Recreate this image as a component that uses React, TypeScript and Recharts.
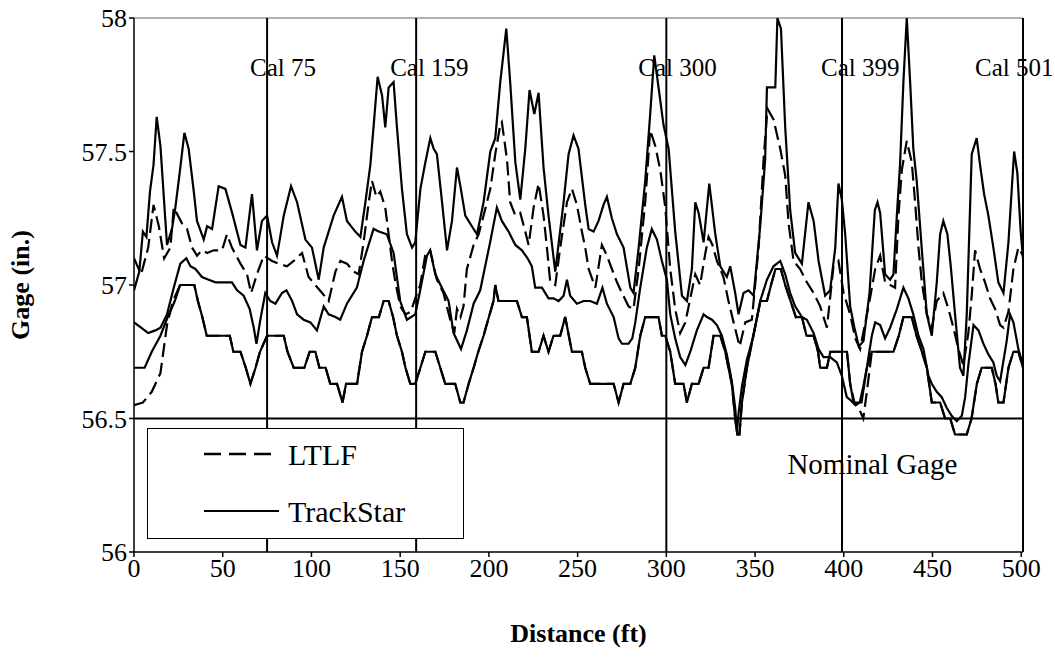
import React from "react";
import { LineChart, Line, XAxis, YAxis, ReferenceLine } from "recharts";

// distance (ft), gage (in.)
type Pt = [number, number];

const xTicks = [0, 50, 100, 150, 200, 250, 300, 350, 400, 450, 500];
const yTicks = [56, 56.5, 57, 57.5, 58];
const calStations = [75, 159, 300, 399, 501];
const calLabels = ["Cal 75", "Cal 159", "Cal 300", "Cal 399", "Cal 501"];
const nominalGage = 56.5;

const trackStarHigh: Pt[] = [
  [0, 56.98], [3, 57.05], [5, 57.2], [7, 57.18], [9, 57.35], [11, 57.45], [12.8, 57.63], [14.9, 57.52],
  [18.6, 57.15], [21.4, 57.21], [23.3, 57.29], [26.1, 57.44], [28.4, 57.57], [30.8, 57.51],
  [33.7, 57.35], [35.5, 57.24], [39.3, 57.17], [41.2, 57.22], [44, 57.21], [47.7, 57.37],
  [51.5, 57.36], [55.3, 57.27], [60, 57.15], [62.8, 57.14], [66.5, 57.34], [69.3, 57.13],
  [72.1, 57.24], [75, 57.26], [77.8, 57.16], [80.6, 57.11], [84.4, 57.26], [88.5, 57.37],
  [91.9, 57.31], [96.6, 57.17], [100.3, 57.14], [104.1, 57.02], [106.9, 57.14], [112.5, 57.26],
  [117.2, 57.33], [120, 57.24], [124.7, 57.2], [127.6, 57.18], [130.4, 57.31], [133.2, 57.45],
  [135.1, 57.6], [137.3, 57.78], [139.8, 57.71], [141.6, 57.59], [143.5, 57.74], [146.3, 57.76],
  [148.2, 57.59], [151, 57.36], [153.8, 57.19], [156.7, 57.14], [158.5, 57.16], [161.4, 57.36],
  [164.2, 57.46], [167, 57.55], [168.9, 57.51], [170.7, 57.49], [173.6, 57.31], [176.4, 57.13],
  [179.2, 57.24], [182, 57.44], [184.2, 57.36], [186.7, 57.26], [190.4, 57.22], [193.3, 57.19],
  [197, 57.31], [200.8, 57.5], [203.6, 57.55], [206.4, 57.76], [209.8, 57.96], [212, 57.76],
  [214.9, 57.46], [217.7, 57.32], [220.5, 57.51], [222.9, 57.73], [225.6, 57.64], [228, 57.72],
  [230.8, 57.44], [233.6, 57.26], [237.4, 57.05], [242.1, 57.31], [244.9, 57.49], [247.7, 57.56],
  [250.5, 57.51], [254.3, 57.3], [256.2, 57.21], [259, 57.2], [261.8, 57.24], [264.6, 57.3],
  [266.5, 57.33], [269.3, 57.25], [272.2, 57.19], [275.9, 57.14], [279.7, 56.99], [281.5, 56.97],
  [284.4, 57.14], [288.1, 57.39], [290.9, 57.64], [293.2, 57.86], [295.6, 57.74], [298.4, 57.6],
  [301.3, 57.51], [305, 57.2], [308.8, 56.96], [311.6, 56.94], [314.4, 57.06], [316.3, 57.31],
  [318.2, 57.27], [321, 57.16], [324.2, 57.38], [327.6, 57.19], [330.4, 57.07], [334.1, 57.03],
  [336, 57.07], [338.8, 56.97], [340.7, 56.89], [343.5, 56.97], [346.3, 56.98], [349.2, 56.96],
  [352.9, 57.22], [355.7, 57.47], [356.7, 57.74], [361.4, 57.74], [362.6, 58.0], [364.6, 57.96],
  [367, 57.59], [369.8, 57.28], [372.6, 57.12], [376.4, 57.08], [380.1, 57.31], [383, 57.24],
  [385.8, 57.09], [389.5, 56.96], [392.3, 56.98], [395.2, 57.14], [397, 57.38], [398.9, 57.32],
  [400.8, 57.19], [403.6, 56.92], [406, 56.84], [408.5, 56.77], [411.1, 56.79], [414.5, 56.97],
  [417.5, 57.28], [419, 57.31], [420.5, 57.27], [423.3, 57.04], [426.1, 57.02], [428, 57.04],
  [429.9, 57.26], [431.7, 57.45], [433.6, 57.76], [435.5, 58.0], [437.4, 57.76], [439.2, 57.51],
  [441.1, 57.39], [443.9, 57.14], [446.8, 56.89], [449.6, 56.81], [452.4, 57.01], [454.3, 57.19],
  [456.1, 57.24], [458.4, 57.19], [460.3, 57.07], [462.7, 56.89], [465.5, 56.69], [467.4, 56.66],
  [469.3, 56.89], [472.1, 57.49], [474.9, 57.55], [476.8, 57.45], [479.1, 57.34], [481.5, 57.26],
  [484.3, 57.14], [487.1, 57.01], [490, 56.97], [492.8, 57.16], [496, 57.5], [497.8, 57.42],
  [499.7, 57.2], [501, 57.1],
];

const ltlfHigh: Pt[] = [
  [0, 57.1], [4, 57.04], [8, 57.14], [11, 57.3], [14, 57.22], [17, 57.1], [20.5, 57.14],
  [22.4, 57.29], [27.1, 57.23], [29.9, 57.21], [32.7, 57.14], [35.5, 57.11], [38.3, 57.13],
  [41.2, 57.12], [44.9, 57.13], [49.6, 57.13], [52.4, 57.19], [55.2, 57.14], [60, 57.08],
  [63.7, 57.04], [66, 56.97], [69.3, 57.04], [73.1, 57.11], [77.8, 57.09], [81.5, 57.08],
  [86.2, 57.07], [90, 57.09], [94.7, 57.12], [98.4, 57.03], [102.2, 57.0], [106, 56.97],
  [109.7, 56.94], [113.5, 57.05], [116.3, 57.09], [120, 57.08], [123.8, 57.05], [126.6, 57.04],
  [129.4, 57.16], [132.3, 57.31], [134.1, 57.39], [136.6, 57.33], [138.8, 57.35], [141.6, 57.29],
  [143.5, 57.19], [145.4, 57.09], [147.3, 57.01], [150.1, 56.92], [153, 56.89], [156, 56.9],
  [158.5, 56.95], [161.3, 57.0], [164.1, 57.11], [166.9, 57.13], [170.7, 57.02], [174.4, 56.97],
  [178.2, 56.87], [180.5, 56.82], [182, 56.91], [184, 56.88], [185.7, 56.92], [187.6, 57.06],
  [191.4, 57.15], [194.2, 57.19], [197, 57.26], [200.8, 57.36], [203.6, 57.49], [206.4, 57.6],
  [207.3, 57.61], [210.2, 57.47], [212, 57.31], [214.9, 57.26], [217.7, 57.27], [220.5, 57.2],
  [222.4, 57.15], [225.2, 57.29], [228, 57.38], [230.8, 57.26], [232.7, 57.14], [234.6, 57.01],
  [237.4, 57.0], [240.2, 57.14], [244, 57.31], [246.8, 57.36], [249.6, 57.3], [252.4, 57.2],
  [254.3, 57.14], [256.2, 57.06], [260, 56.99], [263.7, 57.15], [266.5, 57.11], [269.3, 57.06],
  [272.2, 57.01], [275, 56.97], [278.7, 56.92], [281.5, 56.91], [284.4, 57.06], [288.1, 57.31],
  [290.9, 57.58], [293.8, 57.52], [296.6, 57.43], [299.4, 57.29], [302.2, 57.06], [305, 56.91],
  [307.8, 56.82], [310.7, 56.86], [313.5, 56.95], [316.3, 57.04], [319, 57.0], [322, 57.12],
  [323.8, 57.18], [326, 57.15], [328.5, 57.09], [330.4, 57.06], [332.2, 57.03], [335, 56.94],
  [337.9, 56.86], [341.3, 56.77], [344.5, 56.86], [348.2, 56.87], [352, 57.14], [354.8, 57.47],
  [357, 57.66], [360.4, 57.62], [364.2, 57.51], [367, 57.41], [368.9, 57.23], [371.7, 57.09],
  [375.4, 57.06], [379.2, 57.01], [383, 56.97], [386.7, 56.92], [390.5, 56.84], [394.2, 57.07],
  [397, 57.09], [399.9, 56.97], [403.6, 56.89], [406.5, 56.8], [409.2, 56.76], [414.8, 56.95],
  [417.7, 57.06], [420.5, 57.11], [423.3, 57.01], [428.9, 56.99], [430.8, 57.26], [432.7, 57.43],
  [435.5, 57.54], [438.3, 57.46], [440.2, 57.31], [442.1, 57.14], [444, 57.01], [446.8, 56.89],
  [449.6, 56.84], [452.4, 56.94], [456.1, 56.97], [459, 56.91], [461.8, 56.84], [464.6, 56.76],
  [467.4, 56.7], [470.2, 56.82], [472.1, 56.96], [474, 57.13], [476.8, 57.06], [479.6, 57.01],
  [482.4, 56.95], [485.3, 56.91], [488.1, 56.85], [490, 56.84], [492.8, 56.9], [495.6, 57.06],
  [498.4, 57.14], [501, 57.11],
];

const trackStarMid: Pt[] = [
  [0, 56.86], [4, 56.84], [8, 56.82], [12, 56.83], [14.9, 56.84], [18.6, 56.89], [22.4, 56.99],
  [26.1, 57.08], [29.5, 57.1], [31.8, 57.07], [34.6, 57.06], [38.3, 57.03], [42.1, 57.02],
  [45.9, 57.01], [49.6, 57.01], [52.4, 57.01], [55.2, 57.01], [58.1, 56.98], [61.8, 56.96],
  [65.2, 56.91], [67.5, 56.84], [69, 56.78], [71.2, 56.87], [74, 56.97], [76.8, 56.94],
  [79.7, 56.93], [83.4, 56.97], [85.9, 56.98], [89.1, 56.94], [91.9, 56.89], [95.6, 56.87],
  [99.4, 56.86], [103.1, 56.83], [106.9, 56.92], [109.7, 56.89], [113.5, 56.88], [116.2, 56.87],
  [120, 56.93], [125.6, 56.99], [129.4, 57.09], [135, 57.21], [138, 57.2], [142.5, 57.19],
  [146.3, 57.12], [150, 56.94], [153.8, 56.87], [158.5, 56.89], [161.3, 56.98], [165.1, 57.11],
  [166.9, 57.13], [169.8, 57.04], [173.5, 56.99], [177.3, 56.94], [180.1, 56.82], [184.3, 56.76],
  [187.6, 56.83], [191.4, 56.93], [195.1, 56.98], [200.7, 57.16], [204.5, 57.29], [207.3, 57.24],
  [211.1, 57.2], [214.9, 57.15], [218.6, 57.13], [221.8, 57.1], [224.2, 57.07], [226.1, 56.99],
  [229.9, 56.99], [233.6, 56.95], [236.4, 56.95], [239.3, 56.94], [242.1, 56.96], [244, 57.02],
  [245.8, 56.96], [249.6, 56.93], [253.4, 56.94], [257.1, 56.94], [260.9, 56.93], [264, 56.99],
  [266.5, 56.93], [270.3, 56.88], [273.1, 56.8], [275, 56.78], [278.7, 56.78], [280.8, 56.8],
  [282.5, 56.86], [285.3, 56.99], [289, 57.14], [291.8, 57.21], [294.7, 57.17], [297.5, 57.09],
  [300.3, 57.02], [302.2, 56.89], [305, 56.8], [307.8, 56.73], [310.7, 56.7], [313.5, 56.75],
  [317.2, 56.83], [321, 56.89], [322.9, 56.88], [325.7, 56.87], [328.5, 56.85], [331.3, 56.81],
  [334.1, 56.74], [336.9, 56.64], [338.8, 56.54], [339.8, 56.45], [340.7, 56.52], [342.6, 56.62],
  [345.4, 56.72], [349.1, 56.81], [352.9, 56.94], [356.7, 57.02], [360.4, 57.07], [364.2, 57.09],
  [367, 57.04], [369.8, 56.97], [372.6, 56.92], [376.4, 56.88], [379.2, 56.87], [383, 56.82],
  [385.8, 56.76], [388.6, 56.73], [392.3, 56.73], [396.1, 56.71], [398.9, 56.66], [401.7, 56.58],
  [403.6, 56.57], [406.5, 56.55], [409, 56.56], [411, 56.62], [413, 56.69], [415.8, 56.81],
  [417.7, 56.86], [420.5, 56.85], [423.3, 56.8], [426.1, 56.84], [429.9, 56.91], [433.6, 56.99],
  [436.4, 56.95], [439.2, 56.89], [442.1, 56.81], [444.9, 56.76], [447.7, 56.66], [449.6, 56.63],
  [452.4, 56.6], [455.2, 56.58], [458, 56.54], [460.8, 56.51], [463.7, 56.49], [466.5, 56.51],
  [468.4, 56.58], [470.2, 56.7], [473.1, 56.85], [475.9, 56.83], [478.7, 56.78], [481.5, 56.74],
  [484.3, 56.71], [486.2, 56.66], [488.1, 56.64], [491.8, 56.79], [493.7, 56.89], [495.6, 56.86],
  [498.4, 56.76], [501, 56.7],
];

const trackStarLow: Pt[] = [
  [0, 56.69], [6, 56.69], [10, 56.75], [14.9, 56.81], [19, 56.88], [23, 56.94], [26, 57.0],
  [34, 57.0], [36, 56.94], [38.5, 56.88], [41, 56.81], [54, 56.81], [56, 56.75], [60, 56.75],
  [63, 56.69], [65.6, 56.63], [68.5, 56.69], [71, 56.75], [75, 56.81], [84.4, 56.81],
  [86.5, 56.75], [90, 56.69], [96, 56.69], [99, 56.75], [102.2, 56.75], [104.5, 56.69],
  [108, 56.69], [110.6, 56.63], [114.4, 56.63], [117.5, 56.56], [119.5, 56.63], [125.7, 56.63],
  [128.5, 56.75], [131.3, 56.81], [134.1, 56.88], [138, 56.88], [140.7, 56.94], [143.5, 56.94],
  [146, 56.88], [148.2, 56.81], [151, 56.75], [153, 56.69], [155.7, 56.63], [158.5, 56.63],
  [161.4, 56.69], [164.2, 56.75], [169.8, 56.75], [172.6, 56.69], [175.4, 56.63], [181, 56.63],
  [183.9, 56.56], [185.7, 56.56], [188.6, 56.63], [191.4, 56.69], [194, 56.75], [197, 56.81],
  [200, 56.88], [202.6, 56.94], [203.6, 57.0], [205.4, 56.94], [215.8, 56.94], [218.6, 56.88],
  [221.4, 56.88], [224.2, 56.75], [228, 56.75], [230.8, 56.81], [233.6, 56.75], [236.4, 56.81],
  [240.2, 56.81], [243, 56.88], [246.8, 56.75], [252.4, 56.75], [254.3, 56.69], [257.1, 56.63],
  [270.3, 56.63], [273.1, 56.56], [275.9, 56.63], [279.7, 56.63], [282.5, 56.69], [285.3, 56.81],
  [288.1, 56.88], [295.6, 56.88], [297.5, 56.81], [299.4, 56.81], [302.2, 56.75], [305, 56.63],
  [309.7, 56.63], [311.6, 56.56], [314.4, 56.63], [318.2, 56.63], [321, 56.69], [323.8, 56.69],
  [326.6, 56.81], [330.4, 56.81], [333.2, 56.75], [335, 56.69], [336.9, 56.63], [338.8, 56.5],
  [340, 56.44], [341.2, 56.44], [342.6, 56.56], [345.4, 56.69], [349, 56.81], [353, 56.94],
  [356.7, 56.94], [359, 57.0], [361.5, 57.06], [364.5, 57.06], [367, 57.0], [370, 56.94],
  [373, 56.88], [376.4, 56.88], [379, 56.81], [383, 56.81], [385.5, 56.75], [386.7, 56.69],
  [390.5, 56.69], [392.4, 56.75], [401.8, 56.75], [403.6, 56.63], [405.5, 56.56], [410, 56.56],
  [413, 56.69], [415.8, 56.75], [428, 56.75], [431, 56.81], [433.6, 56.88], [438.3, 56.88],
  [441, 56.81], [444, 56.75], [446.8, 56.69], [449.6, 56.56], [454.3, 56.56], [457.1, 56.5],
  [460, 56.5], [462.7, 56.44], [469.3, 56.44], [472, 56.5], [475, 56.63], [477.7, 56.69],
  [483.4, 56.69], [485.5, 56.63], [487.1, 56.56], [490, 56.56], [492.8, 56.69], [495.6, 56.75],
  [498.4, 56.75], [501, 56.69],
];

const ltlfLow: Pt[] = [
  [0, 56.55], [5, 56.56], [10, 56.6], [14.9, 56.67], [18.6, 56.85], [22, 56.94], [26, 57.0],
  [34, 57.0], [36, 56.94], [38.5, 56.88], [41, 56.81], [54, 56.81], [56, 56.75], [60, 56.75],
  [63, 56.69], [65.6, 56.63], [68.5, 56.69], [71, 56.75], [75, 56.81], [84.4, 56.81],
  [86.5, 56.75], [90, 56.69], [96, 56.69], [99, 56.75], [102.2, 56.75], [104.5, 56.69],
  [108, 56.69], [110.6, 56.63], [114.4, 56.63], [117.5, 56.56], [119.5, 56.63], [125.7, 56.63],
  [128.5, 56.75], [131.3, 56.81], [134.1, 56.88], [138, 56.88], [140.7, 56.94], [143.5, 56.94],
  [146, 56.88], [148.2, 56.81], [151, 56.75], [153, 56.69], [155.7, 56.63], [158.5, 56.63],
  [161.4, 56.69], [164.2, 56.75], [169.8, 56.75], [172.6, 56.69], [175.4, 56.63], [181, 56.63],
  [183.9, 56.56], [185.7, 56.56], [188.6, 56.63], [191.4, 56.69], [194, 56.75], [197, 56.81],
  [200, 56.88], [202.6, 56.94], [203.6, 57.0], [205.4, 56.94], [215.8, 56.94], [218.6, 56.88],
  [221.4, 56.88], [224.2, 56.75], [228, 56.75], [230.8, 56.81], [233.6, 56.75], [236.4, 56.81],
  [240.2, 56.81], [243, 56.88], [246.8, 56.75], [252.4, 56.75], [254.3, 56.69], [257.1, 56.63],
  [270.3, 56.63], [273.1, 56.56], [275.9, 56.63], [279.7, 56.63], [282.5, 56.69], [285.3, 56.81],
  [288.1, 56.88], [295.6, 56.88], [297.5, 56.81], [299.4, 56.81], [302.2, 56.75], [305, 56.63],
  [309.7, 56.63], [311.6, 56.56], [314.4, 56.63], [318.2, 56.63], [321, 56.69], [323.8, 56.69],
  [326.6, 56.81], [330.4, 56.81], [333.2, 56.75], [335, 56.69], [336.9, 56.63], [338.8, 56.5],
  [340, 56.44], [341.2, 56.44], [342.6, 56.56], [345.4, 56.69], [349, 56.81], [353, 56.94],
  [356.7, 56.94], [359, 57.0], [361.5, 57.06], [364.5, 57.06], [367, 57.0], [370, 56.94],
  [373, 56.88], [376.4, 56.88], [379, 56.81], [383, 56.81], [385.5, 56.75], [386.7, 56.69],
  [390.5, 56.69], [392.4, 56.75], [401.8, 56.75], [403.6, 56.63], [406, 56.56], [409, 56.53],
  [411, 56.5], [413, 56.6], [415.8, 56.75], [428, 56.75], [431, 56.81], [433.6, 56.88],
  [438.3, 56.88], [441, 56.81], [444, 56.75], [446.8, 56.69], [449.6, 56.56], [454.3, 56.56],
  [457.1, 56.5], [460, 56.5], [462.7, 56.44], [469.3, 56.44], [472, 56.5], [475, 56.63],
  [477.7, 56.69], [483.4, 56.69], [485.5, 56.63], [487.1, 56.56], [490, 56.56], [492.8, 56.69],
  [495.6, 56.75], [498.4, 56.75], [501, 56.69],
];

const FONT = '"Liberation Serif", "Times New Roman", serif';
const calLabelShift = [-17, -26, -28, -21, -48];

const rows = (pts: Pt[]) => pts.map(([ft, gage]) => ({ ft, gage }));

const series = [
  { name: "TrackStar high", pts: trackStarHigh, dash: undefined },
  { name: "LTLF high", pts: ltlfHigh, dash: "14 6" },
  { name: "TrackStar mid", pts: trackStarMid, dash: undefined },
  { name: "LTLF low", pts: ltlfLow, dash: "14 6" },
  { name: "TrackStar low", pts: trackStarLow, dash: undefined },
];

function CalLabel(text: string, shift: number) {
  return (props: any) => {
    const vb = props.viewBox || {};
    return (
      <text x={vb.x + shift} y={67} fontSize={25} fontFamily={FONT} fill="#000" dominantBaseline="central">
        {text}
      </text>
    );
  };
}

function NominalLabel(props: any) {
  const vb = props.viewBox || {};
  return (
    <text x={vb.x + vb.width * 0.735} y={vb.y + 45} fontSize={29} fontFamily={FONT} fill="#000" dominantBaseline="central">
      Nominal Gage
    </text>
  );
}

function Legend() {
  return (
    <div
      style={{
        position: "absolute",
        left: 147,
        top: 428,
        width: 315,
        height: 109,
        background: "#fff",
        border: "1px solid #000",
        fontFamily: FONT,
        fontSize: 30,
      }}
    >
      <svg width={315} height={109} style={{ position: "absolute", left: 0, top: 0 }}>
        <line x1={56} x2={130} y1={25} y2={25} stroke="#000" strokeWidth={2.5} strokeDasharray="17 8" />
        <line x1={56} x2={131} y1={82} y2={82} stroke="#000" strokeWidth={2} />
        <text x={140} y={25} fontSize={30} fontFamily={FONT} dominantBaseline="central">LTLF</text>
        <text x={140} y={82} fontSize={30} fontFamily={FONT} dominantBaseline="central">TrackStar</text>
      </svg>
    </div>
  );
}

export default function App() {
  return (
    <div style={{ position: "absolute", left: 0, top: 0, width: 1055, height: 663, background: "#fff" }}>
      <LineChart width={1055} height={663} margin={{ top: 18, right: 32, bottom: 81, left: 0 }}>
        <XAxis
          dataKey="ft"
          type="number"
          domain={[0, 501]}
          ticks={xTicks}
          allowDataOverflow
          height={30}
          stroke="#000"
          strokeWidth={1.5}
          tick={{ fontSize: 26, fill: "#000", fontFamily: FONT }}
          tickSize={5}
          label={{ value: "Distance (ft)", position: "bottom", offset: 42, style: { fontSize: 26, fontWeight: "bold", fill: "#000", fontFamily: FONT } }}
        />
        <YAxis
          type="number"
          domain={[56, 58]}
          ticks={yTicks}
          allowDataOverflow
          width={134}
          stroke="#000"
          strokeWidth={1.5}
          tick={{ fontSize: 26, fill: "#000", fontFamily: FONT }}
          tickSize={5}
          label={{ value: "Gage (in.)", angle: -90, position: "insideLeft", offset: 20, style: { fontSize: 26, fontWeight: "bold", fill: "#000", fontFamily: FONT, textAnchor: "middle" } }}
        />
        <ReferenceLine y={58} stroke="#999" strokeWidth={1.5} />
        <ReferenceLine y={nominalGage} stroke="#000" strokeWidth={2} label={NominalLabel} />
        {calStations.map((x, i) => (
          <ReferenceLine key={x} x={x} stroke="#000" strokeWidth={2} label={CalLabel(calLabels[i], calLabelShift[i])} />
        ))}
        {series.map((s) => (
          <Line
            key={s.name}
            data={rows(s.pts)}
            dataKey="gage"
            name={s.name}
            type="linear"
            stroke="#000"
            strokeWidth={2.2}
            strokeDasharray={s.dash}
            dot={false}
            activeDot={false}
            isAnimationActive={false}
          />
        ))}
      </LineChart>
      <Legend />
    </div>
  );
}
